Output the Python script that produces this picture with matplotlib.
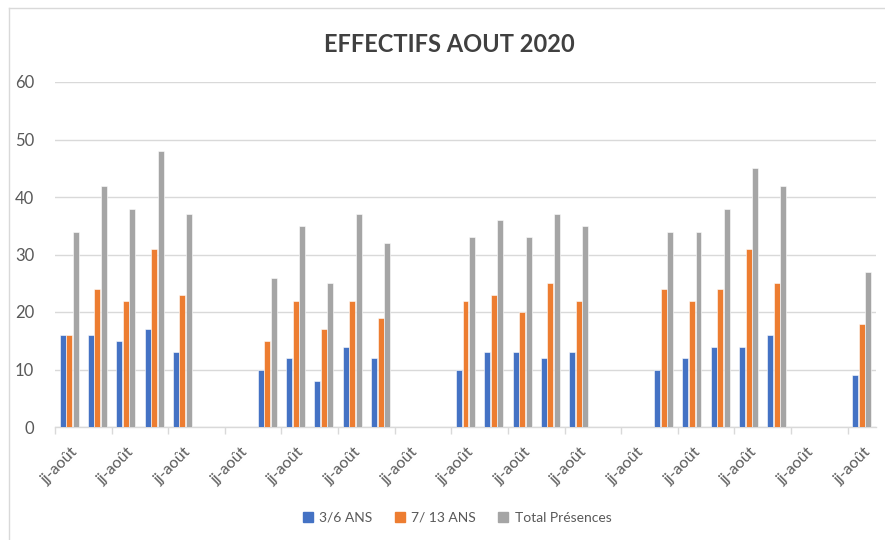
import matplotlib.pyplot as plt
from matplotlib.lines import Line2D

# jours ouvres d'aout 2020 (les week-ends sont vides)
days = [3, 4, 5, 6, 7, 10, 11, 12, 13, 14, 17, 18, 19, 20, 21,
        24, 25, 26, 27, 28, 31]
ans_3_6 = [16, 16, 15, 17, 13, 10, 12, 8, 14, 12, 10, 13, 13, 12, 13,
           10, 12, 14, 14, 16, 9]
ans_7_13 = [16, 24, 22, 31, 23, 15, 22, 17, 22, 19, 22, 23, 20, 25, 22,
            24, 22, 24, 31, 25, 18]
total = [34, 42, 38, 48, 37, 26, 35, 25, 37, 32, 33, 36, 33, 37, 35,
         34, 34, 38, 45, 42, 27]
series_names = ['3/6 ANS', '7/ 13 ANS', 'Total Présences']
colors = ['#4472C4', '#ED7D31', '#A5A5A5']
label_days = list(range(3, 32, 2))
label_text = 'jj-août'

plt.rcParams['font.family'] = ['Lato', 'DejaVu Sans']

fig = plt.figure(figsize=(8.85, 5.4), dpi=100)
ax = fig.add_axes([55 / 885, 1 - 427 / 540, (876 - 55) / 885, (427 - 82) / 540])

w = 0.21
for i, (vals, col, name) in enumerate(zip([ans_3_6, ans_7_13, total], colors, series_names)):
    offs = (i - 1) * (w + 0.02)
    ax.bar([d + offs for d in days], vals, width=w, color=col, label=name,
           edgecolor='white', linewidth=0.4, zorder=3)

ax.set_xlim(2.5, 31.5)
ax.set_ylim(0, 60)
ax.set_yticks(range(0, 61, 10))
ax.grid(axis='y', color='#d9d9d9', linewidth=1, zorder=0)

for s in ['top', 'right', 'left']:
    ax.spines[s].set_visible(False)
ax.spines['bottom'].set_color('#d9d9d9')
ax.spines['bottom'].set_linewidth(1)

ax.set_xticks([d + 0.5 for d in range(2, 31, 2)])
ax.set_xticklabels([])
ax.set_xticks([d + 0.05 for d in label_days], minor=True)
ax.set_xticklabels([label_text] * len(label_days), minor=True, rotation=45,
                   ha='right', va='top', rotation_mode='anchor')
ax.tick_params(axis='x', which='major', length=5, color='#d9d9d9', width=1)
ax.tick_params(axis='x', which='minor', length=0, pad=13, labelsize=11.5,
               labelcolor='#595959')
ax.tick_params(axis='y', length=0, pad=15, labelsize=12, labelcolor='#595959')

fig.text(449 / 885, 1 - 44 / 540, 'EFFECTIFS AOUT 2020', ha='center', va='center',
         fontsize=17, fontweight='bold', color='#404040')

handles = [Line2D([], [], marker='s', linestyle='none', markersize=7,
                  markerfacecolor=c, markeredgecolor=c) for c in colors]
fig.legend(handles, series_names, loc='center', bbox_to_anchor=(456 / 885, 1 - 518 / 540),
           ncol=3, frameon=False, fontsize=10, labelcolor='#595959',
           handletextpad=0.3, columnspacing=1.5, handlelength=1)

# bordure du graphique
fig.add_artist(Line2D([9 / 885, 1], [1 - 8 / 540, 1 - 8 / 540], transform=fig.transFigure,
                      color='#d9d9d9', linewidth=1))
fig.add_artist(Line2D([9 / 885, 9 / 885], [0, 1 - 8 / 540], transform=fig.transFigure,
                      color='#d9d9d9', linewidth=1))

fig.savefig('out.png', dpi=100)
